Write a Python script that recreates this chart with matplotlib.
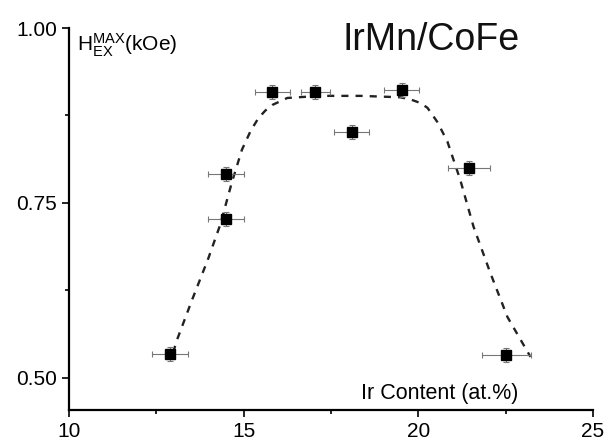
import matplotlib.pyplot as plt
from matplotlib.ticker import MultipleLocator

plt.rcParams['font.family'] = ['Liberation Sans', 'DejaVu Sans']
plt.rcParams['mathtext.fontset'] = 'custom'
plt.rcParams['mathtext.rm'] = 'Liberation Sans'
plt.rcParams['mathtext.it'] = 'Liberation Sans'

# measured points
ir = [12.89, 14.5, 14.5, 15.82, 17.05, 18.1, 19.53, 21.44, 22.52]
hex_max = [0.534, 0.791, 0.727, 0.909, 0.909, 0.851, 0.912, 0.800, 0.533]
ir_err = [0.52, 0.52, 0.52, 0.5, 0.42, 0.5, 0.5, 0.6, 0.7]
hex_err = [0.01, 0.01, 0.01, 0.01, 0.01, 0.01, 0.01, 0.01, 0.01]

# dashed guide curve
fit_x = [12.98, 13.09, 13.52, 13.99, 14.33, 14.66, 14.95, 15.2, 15.42, 15.62,
         15.82, 16.25, 17.19, 18.34, 19.48, 19.77, 20.05, 20.26, 20.54, 20.83,
         21.2, 21.58, 22.06, 22.55, 23.21]
fit_y = [0.536, 0.554, 0.611, 0.671, 0.719, 0.779, 0.826, 0.853, 0.871, 0.882,
         0.890, 0.900, 0.903, 0.903, 0.901, 0.898, 0.893, 0.886, 0.866, 0.838,
         0.783, 0.716, 0.650, 0.587, 0.530]

fig = plt.figure(figsize=(6.09, 4.45), dpi=100)
ax = fig.add_axes([69/609, 35/445, 524/609, 382/445])

ax.plot(fit_x, fit_y, '--', color='#222222', lw=1.7, dashes=(3, 3))
ax.errorbar(ir, hex_max, xerr=ir_err, yerr=hex_err, fmt='s', color='black',
            ms=6.5, ecolor='#777777', elinewidth=0.8, capsize=2.5, capthick=0.8,
            zorder=5)

ax.set_xlim(10, 25)
ax.set_ylim(0.454, 1.0)
ax.xaxis.set_major_locator(MultipleLocator(5))
ax.xaxis.set_minor_locator(MultipleLocator(2.5))
ax.set_yticks([0.5, 0.75, 1.0])
ax.set_yticklabels(['0.50', '0.75', '1.00'])
ax.yaxis.set_minor_locator(MultipleLocator(0.125))
ax.tick_params(which='both', direction='out', width=1.2, labelsize=15)
ax.tick_params(which='major', length=5)
ax.tick_params(which='minor', length=3)
for s in ['top', 'right']:
    ax.spines[s].set_visible(False)
for s in ['left', 'bottom']:
    ax.spines[s].set_linewidth(1.6)

fig.text(77/609, 1 - 45/445, r'H$_{\mathrm{EX}}^{\mathrm{MAX}}$(kOe)', fontsize=15,
         va='center', ha='left')
fig.text(440/609, 1 - 393/445, 'Ir Content (at.%)', fontsize=15.5,
         va='center', ha='center')
fig.text(431/609, 1 - 40/445, 'IrMn/CoFe', fontsize=27, va='center', ha='center',
         color='#111111')

plt.savefig('out.png', dpi=100)
